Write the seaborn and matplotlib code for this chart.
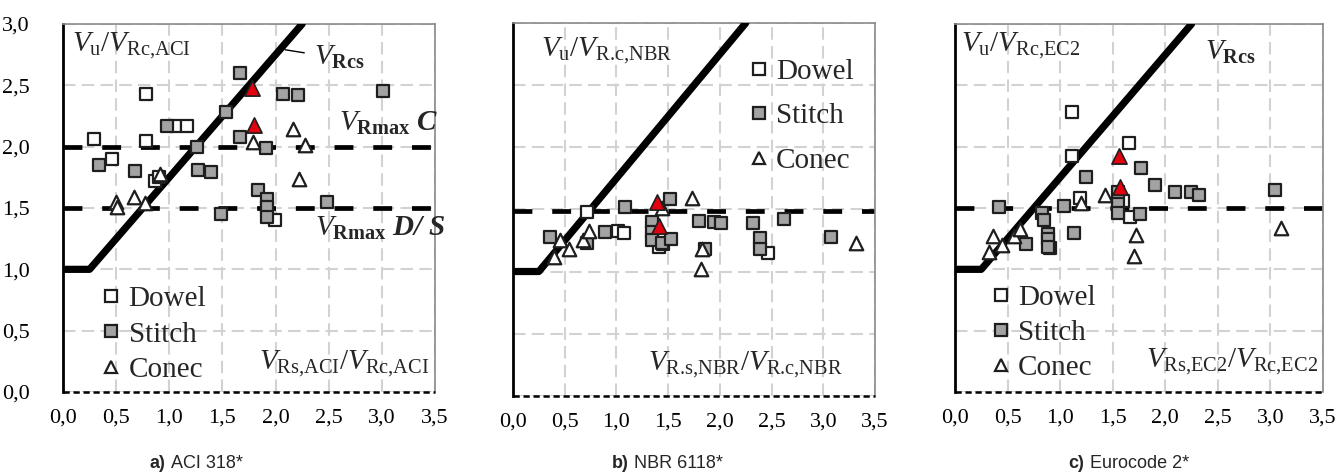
import matplotlib
matplotlib.use('Agg')
import matplotlib.pyplot as plt
import seaborn as sns
from matplotlib.lines import Line2D

# ---------------- data ----------------
xticks = [0.0, 0.5, 1.0, 1.5, 2.0, 2.5, 3.0, 3.5]
xtick_labels = ['0,0', '0,5', '1,0', '1,5', '2,0', '2,5', '3,0', '3,5']
yticks = [0.0, 0.5, 1.0, 1.5, 2.0, 2.5, 3.0]
ytick_labels = ['0,0', '0,5', '1,0', '1,5', '2,0', '2,5', '3,0']

# V_Rcs limit line (same in all panels)
rcs_x = [0.0, 0.25, 2.25]
rcs_y = [1.0, 1.0, 3.0]

# Panel a) ACI 318*
rmax_a = [2.0, 1.5]
dowel_a_x = [0.29, 0.46, 0.78, 0.78, 1.05, 1.17, 0.87, 0.90, 1.99]
dowel_a_y = [2.06, 1.90, 2.43, 2.05, 2.17, 2.17, 1.72, 1.75, 1.40]
stitch_a_x = [0.34, 0.68, 0.975, 1.26, 1.53, 1.665, 1.27, 1.39, 1.665, 1.91,
              2.07, 2.21, 1.83, 1.92, 1.92, 1.92, 1.49, 2.48, 3.01]
stitch_a_y = [1.85, 1.80, 2.17, 2.00, 2.28, 2.60, 1.81, 1.79, 2.08, 1.99,
              2.43, 2.42, 1.65, 1.57, 1.505, 1.43, 1.45, 1.55, 2.45]
conec_a_x = [0.50, 0.51, 0.67, 0.77, 0.91, 1.79, 2.16, 2.28, 2.22]
conec_a_y = [1.55, 1.51, 1.59, 1.54, 1.78, 2.04, 2.14, 2.01, 1.74]
red_a_x = [1.78, 1.80]
red_a_y = [2.475, 2.18]

# Panel b) NBR 6118*
rmax_b = [1.49]
dowel_b_x = [0.72, 1.02, 1.07, 1.41, 1.45, 2.47]
dowel_b_y = [1.48, 1.33, 1.31, 1.20, 1.22, 1.15]
stitch_b_x = [0.36, 0.72, 0.89, 1.08, 1.52, 1.34, 1.34, 1.34, 1.44, 1.53,
              1.80, 1.94, 2.01, 1.86, 2.32, 2.39, 2.39, 2.62, 3.07]
stitch_b_y = [1.275, 1.23, 1.32, 1.52, 1.58, 1.40, 1.32, 1.25, 1.23, 1.26,
              1.41, 1.40, 1.39, 1.18, 1.39, 1.27, 1.18, 1.42, 1.275]
conec_b_x = [0.455, 0.40, 0.545, 0.68, 0.735, 1.44, 1.73, 1.83, 1.815, 3.32]
conec_b_y = [1.25, 1.12, 1.18, 1.25, 1.33, 1.51, 1.59, 1.18, 1.02, 1.23]
red_b_x = [1.39, 1.41]
red_b_y = [1.56, 1.37]

# Panel c) Eurocode 2*
rmax_c = [1.5]
dowel_c_x = [1.11, 1.11, 1.655, 1.19, 1.60, 1.665, 0.90]
dowel_c_y = [2.28, 1.92, 2.03, 1.58, 1.56, 1.43, 1.17]
stitch_c_x = [0.42, 0.675, 0.83, 0.85, 0.88, 0.88, 0.88, 1.04, 1.13, 1.25,
              1.55, 1.55, 1.55, 1.76, 1.77, 1.90, 2.09, 2.24, 2.32, 3.04]
stitch_c_y = [1.505, 1.21, 1.46, 1.40, 1.29, 1.25, 1.18, 1.52, 1.30, 1.75,
              1.63, 1.535, 1.46, 1.45, 1.83, 1.69, 1.63, 1.63, 1.61, 1.65]
conec_c_x = [0.32, 0.365, 0.45, 0.56, 0.62, 1.20, 1.43, 1.72, 1.70, 3.10]
conec_c_y = [1.14, 1.27, 1.20, 1.27, 1.33, 1.54, 1.61, 1.28, 1.11, 1.34]
red_c_x = [1.56, 1.57]
red_c_y = [1.92, 1.67]

legend_labels = ['Dowel', 'Stitch', 'Conec']
captions = [('a)', ' ACI 318*'), ('b)', ' NBR 6118*'), ('c)', ' Eurocode 2*')]

# ---------------- style ----------------
sns.set_theme(style='white')
plt.rcParams['font.family'] = ['Liberation Serif', 'DejaVu Serif']
plt.rcParams['mathtext.fontset'] = 'custom'
plt.rcParams['mathtext.rm'] = 'Liberation Serif'
plt.rcParams['mathtext.it'] = 'Liberation Serif:italic'
plt.rcParams['mathtext.bf'] = 'Liberation Serif:bold'
plt.rcParams['mathtext.bfit'] = 'Liberation Serif:italic:bold'

GREY = '#a3a3a3'
EDGE = '#1e1e1e'
RED = '#e3000f'

fig = plt.figure(figsize=(13.4, 4.73), dpi=100)
positions = [
    [63 / 1340, (473 - 392) / 473, 372 / 1340, 368 / 473],
    [513 / 1340, (473 - 395.7) / 473, 362 / 1340, 372.6 / 473],
    [955 / 1340, (473 - 392) / 473, 368 / 1340, 368 / 473],
]


def draw_panel(ax, rmax, dx, dy, sx, sy, cx, cy, rx, ry, show_y):
    ax.set_xlim(0, 3.5)
    ax.set_ylim(0, 3.0)
    ax.set_xticks(xticks)
    ax.set_xticklabels(xtick_labels, family='Liberation Serif')
    ax.set_yticks(yticks)
    if show_y:
        ax.set_yticklabels(ytick_labels, family='Liberation Serif')
    else:
        ax.set_yticklabels([])
    ax.tick_params(length=0, labelsize=16, colors='black')
    ax.tick_params(axis='x', pad=12)
    ax.tick_params(axis='y', pad=24)
    ax.grid(True, color='#d2d2d2', lw=1.5, ls=(0, (6, 3)))
    ax.set_axisbelow(True)
    for side in ['top', 'right']:
        ax.spines[side].set_color('#8a8a8a')
        ax.spines[side].set_linewidth(1.2)
    ax.spines['left'].set_color('black')
    ax.spines['left'].set_linewidth(2.0)
    ax.spines['bottom'].set_visible(False)
    ax.axhline(0, color='black', lw=1.8, ls=(0, (2.5, 1.5)), zorder=3, clip_on=False)

    for yv in rmax:
        ax.axhline(yv, color='black', lw=3.4, ls=(0, (4, 4.2)), zorder=2)

    sns.lineplot(x=rcs_x, y=rcs_y, ax=ax, color='black', lw=5.2, sort=False,
                 estimator=None, solid_capstyle='round', zorder=3)

    sns.scatterplot(x=dx, y=dy, ax=ax, marker='s', s=78, color='white',
                    edgecolor=EDGE, linewidth=1.6, zorder=4)
    sns.scatterplot(x=sx, y=sy, ax=ax, marker='s', s=78, color=GREY,
                    edgecolor=EDGE, linewidth=1.6, zorder=5)
    sns.scatterplot(x=cx, y=cy, ax=ax, marker='^', s=95, color='white',
                    edgecolor=EDGE, linewidth=1.6, zorder=6)
    sns.scatterplot(x=rx, y=ry, ax=ax, marker='^', s=120, color=RED,
                    edgecolor=EDGE, linewidth=1.2, zorder=7)
    ax.set_xlabel('')
    ax.set_ylabel('')


def add_legend(ax, anchor, spacing):
    handles = [
        Line2D([], [], marker='s', ls='', mfc='white', mec=EDGE, ms=8.5, mew=1.6),
        Line2D([], [], marker='s', ls='', mfc=GREY, mec=EDGE, ms=8.5, mew=1.6),
        Line2D([], [], marker='^', ls='', mfc='white', mec=EDGE, ms=8.5, mew=1.6),
    ]
    leg = ax.legend(handles, legend_labels, loc='center left', bbox_to_anchor=anchor,
                    bbox_transform=ax.transData, frameon=False,
                    prop={'family': 'Liberation Serif', 'size': 21},
                    handlelength=0.6, handletextpad=0.3, labelspacing=spacing,
                    borderpad=0, borderaxespad=0)
    leg.set_zorder(10)


axes = [fig.add_axes(p) for p in positions]

# ---- a) ----
ax = axes[0]
draw_panel(ax, rmax_a, dowel_a_x, dowel_a_y, stitch_a_x, stitch_a_y,
           conec_a_x, conec_a_y, red_a_x, red_a_y, True)
ax.text(0.08, 2.95, r'$V_{\text{u}}/V_{\text{Rc,ACI}}$', fontsize=21, va='top', ha='left')
ax.text(3.45, 0.23, r'$V_{\text{Rs,ACI}}/V_{\text{Rc,ACI}}$', fontsize=21, va='center', ha='right')
ax.text(2.36, 2.73, r'$V_{\mathbf{Rcs}}$', fontsize=21, va='center', ha='left')
ax.plot([2.09, 2.27], [2.79, 2.765], color='black', lw=1.0, zorder=3)
ax.text(2.60, 2.19, r'$V_{\mathbf{Rmax}}\ \mathbfit{C}$', fontsize=21, va='center', ha='left')
ax.text(2.37, 1.33, r'$V_{\mathbf{Rmax}}\ \mathbfit{D/\ S}$', fontsize=21, va='center', ha='left')
add_legend(ax, (0.37, 0.47), 0.3)

# ---- b) ----
ax = axes[1]
draw_panel(ax, rmax_b, dowel_b_x, dowel_b_y, stitch_b_x, stitch_b_y,
           conec_b_x, conec_b_y, red_b_x, red_b_y, False)
ax.text(0.27, 2.90, r'$V_{\text{u}}/V_{\text{R.c,NBR}}$', fontsize=21, va='top', ha='left')
ax.text(3.19, 0.25, r'$V_{\text{R.s,NBR}}/V_{\text{R.c,NBR}}$', fontsize=21, va='center', ha='right')
add_legend(ax, (2.29, 2.25), 0.62)

# ---- c) ----
ax = axes[2]
draw_panel(ax, rmax_c, dowel_c_x, dowel_c_y, stitch_c_x, stitch_c_y,
           conec_c_x, conec_c_y, red_c_x, red_c_y, False)
ax.text(0.06, 2.95, r'$V_{\text{u}}/V_{\text{Rc,EC2}}$', fontsize=21, va='top', ha='left')
ax.text(3.45, 0.25, r'$V_{\text{Rs,EC2}}/V_{\text{Rc,EC2}}$', fontsize=21, va='center', ha='right')
ax.text(2.38, 2.77, r'$V_{\mathbf{Rcs}}$', fontsize=21, va='center', ha='left')
add_legend(ax, (0.35, 0.48), 0.3)

# ---- captions ----
cap_pos = [(150, 167), (612, 629), (1068, 1085)]
for (bold, rest), (xb, xr) in zip(captions, cap_pos):
    fig.text(xb / 1340, 1 - 463 / 473, bold, fontsize=13, fontweight='bold',
             family='Liberation Sans', ha='left', va='center')
    fig.text(xr / 1340, 1 - 463 / 473, rest, fontsize=13,
             family='Liberation Sans', ha='left', va='center')

fig.savefig('out.png', dpi=100)
